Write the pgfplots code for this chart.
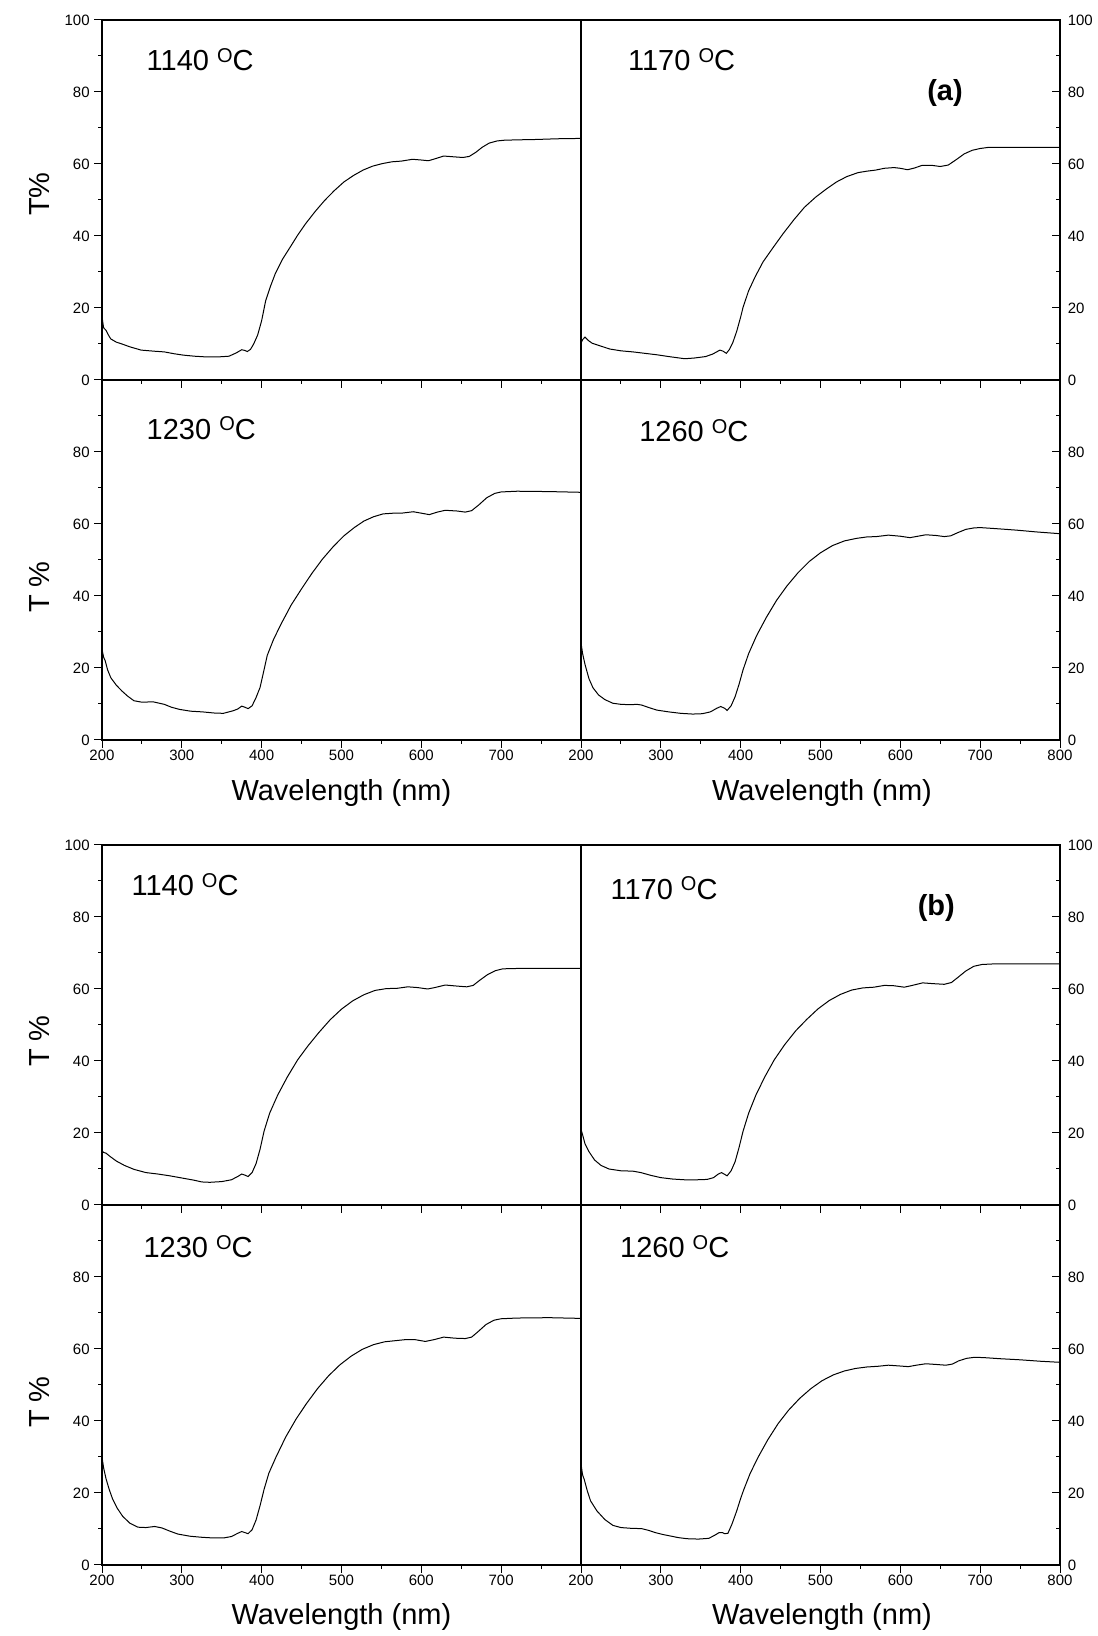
\documentclass[border=0pt]{standalone}
\usepackage{fontspec}
\setmainfont{Liberation Sans}
\usepackage{pgfplots}
\pgfplotsset{compat=1.18}

% temperature label with raised O
\newcommand{\temp}[1]{#1 \raisebox{4.2pt}{\fontsize{10}{10}\selectfont O}C}

\tikzset{tlab/.style={anchor=west, inner sep=1pt, font=\fontsize{14.5}{16}\selectfont}}

\pgfplotsset{
  panel/.style={
    scale only axis, width=239.5pt, height=180pt,
    xmin=200, xmax=800, ymin=0, ymax=100,
    anchor=south west,
    axis line style={line width=0.6pt},
    tick style={black, line width=0.5pt},
    xtick={200,300,...,800}, minor xtick={250,350,...,750},
    ytick={0,20,...,100}, minor ytick={10,30,...,90},
    tick align=outside,
    major tick length=3.8pt, minor tick length=2pt,
    xtick pos=bottom,
    ticklabel style={font=\fontsize{7.5}{9}\selectfont, inner sep=1.2pt},
    /pgf/number format/assume math mode=true,
    every axis plot post/.append style={black, line width=0.5pt, mark=none},
  },
  lpanel/.style={panel, ytick pos=left, yticklabel style={xshift=-1pt}},
  rpanel/.style={panel, ytick pos=right, yticklabel pos=right, ytick align=inside,
    yticklabel style={xshift=2.5pt}},
  toprow/.style={xticklabels={}},
  botrow/.style={ytick={0,20,...,80}},
}

\begin{document}
\begin{tikzpicture}
\useasboundingbox (0pt,0pt) rectangle (548.5pt,818pt);

% ---------------- (a) ----------------
\begin{axis}[lpanel, toprow, at={(51pt,628pt)}]
\addplot coordinates {(200,17.9)(201,16)(202,14.5)(205,13.8)(208,12.5)(211,11.4)(218,10.5)(225,10)(235,9.2)(249,8.3)(265,8)(278,7.8)(290,7.3)(302,6.9)(316,6.6)(331,6.4)(345,6.4)(359,6.6)(368,7.5)(375,8.4)(379,8.2)(382,7.9)(386,8.5)(390,10)(395,12.5)(400,16.5)(405,22)(411,26)(417,29.5)(426,33.5)(436,37)(445,40.2)(455,43.4)(467,46.8)(479,49.9)(491,52.6)(503,55)(515,56.8)(527,58.3)(539,59.4)(551,60.1)(563,60.6)(575,60.8)(589,61.3)(600,61.1)(609,60.9)(618,61.5)(628,62.2)(640,62)(652,61.8)(660,62.1)(668,63.2)(676,64.6)(685,65.8)(695,66.4)(704,66.6)(720,66.7)(743,66.8)(770,67)(800,67.1)};
\node[tlab] at (axis cs:253,89) {\temp{1140}};
\end{axis}

\begin{axis}[rpanel, toprow, at={(290.5pt,628pt)}]
\addplot coordinates {(200,10.3)(202,11.2)(205,11.9)(209,11)(214,10.2)(225,9.4)(236,8.6)(250,8.1)(265,7.8)(280,7.4)(295,7)(310,6.5)(320,6.2)(330,5.9)(342,6.1)(356,6.5)(365,7.2)(374,8.3)(378,8)(382,7.4)(386,8.5)(390,10.3)(395,13.5)(400,17.5)(403,20.2)(410,24.8)(418,28.6)(428,32.8)(441,36.9)(453,40.6)(467,44.6)(480,48)(494,50.8)(507,53)(520,55)(533,56.5)(547,57.6)(558,58)(569,58.3)(580,58.8)(592,59)(600,58.8)(609,58.4)(618,58.9)(627,59.6)(640,59.6)(650,59.3)(660,59.7)(670,61.2)(680,62.8)(690,63.8)(700,64.3)(710,64.6)(740,64.6)(800,64.6)};
\node[tlab] at (axis cs:256,89) {\temp{1170}};
\node[font=\bfseries\fontsize{14.5}{16}\selectfont] at (axis cs:656,79.6) {(a)};
\end{axis}

\begin{axis}[lpanel, botrow, at={(51pt,448pt)}, xtick={200,300,...,700}]
\addplot coordinates {(200,25.2)(202,23)(204,22)(207,19.5)(211,17.3)(218,15.2)(225,13.6)(232,12.2)(240,10.9)(250,10.5)(264,10.6)(278,9.9)(287,9.1)(297,8.5)(311,8)(326,7.8)(340,7.5)(352,7.4)(364,8.1)(370,8.6)(375,9.4)(379,9.1)(383,8.7)(388,9.5)(393,11.8)(398,14.6)(403,19.5)(407,23.5)(415,28)(425,32.5)(437,37.5)(450,42)(463,46.3)(476,50.2)(490,53.8)(503,56.7)(516,59)(528,60.8)(540,62)(552,62.8)(565,63)(575,63)(590,63.4)(600,63)(610,62.6)(620,63.3)(630,63.8)(645,63.6)(655,63.3)(663,63.7)(672,65.3)(682,67.3)(692,68.5)(700,68.9)(720,69.1)(760,69)(800,68.8)};
\node[tlab] at (axis cs:253,86.6) {\temp{1230}};
\end{axis}

\begin{axis}[rpanel, botrow, at={(290.5pt,448pt)}]
\addplot coordinates {(200,27)(202,24)(205,21)(210,17)(215,14.5)(222,12.5)(230,11.2)(240,10.2)(250,9.9)(262,9.8)(270,9.9)(276,9.7)(285,9)(295,8.3)(310,7.8)(325,7.4)(340,7.2)(352,7.3)(362,7.8)(370,8.8)(375,9.3)(380,8.8)(383,8.2)(388,9.5)(393,12)(398,15.5)(403,19.5)(410,24)(420,29)(432,34)(445,38.8)(458,42.8)(472,46.5)(486,49.6)(500,52)(515,54)(530,55.3)(545,56)(558,56.4)(570,56.5)(585,56.9)(600,56.6)(612,56.2)(622,56.6)(632,57)(645,56.8)(655,56.5)(663,56.7)(672,57.6)(682,58.5)(692,58.9)(700,59)(720,58.7)(745,58.3)(770,57.8)(800,57.3)};
\node[tlab] at (axis cs:270,86) {\temp{1260}};
\end{axis}

% ---------------- (b) ----------------
\begin{axis}[lpanel, toprow, at={(51pt,215.5pt)}]
\addplot coordinates {(200,15)(202,14.6)(205,14.4)(210,13.5)(218,12.2)(228,11)(240,9.9)(255,9)(270,8.6)(285,8.1)(300,7.5)(315,6.9)(325,6.4)(335,6.3)(350,6.5)(362,7)(370,7.9)(375,8.6)(379,8.3)(383,7.9)(388,9)(393,11.5)(398,15.5)(403,20.5)(410,25.5)(420,30.5)(432,35.5)(445,40.3)(458,44.2)(472,48)(486,51.5)(500,54.4)(514,56.7)(528,58.4)(542,59.6)(556,60.1)(570,60.2)(583,60.6)(595,60.4)(608,60)(617,60.4)(630,61.1)(645,60.8)(657,60.6)(665,61)(673,62.4)(683,64)(693,65.1)(702,65.6)(720,65.7)(760,65.7)(800,65.7)};
\node[tlab] at (axis cs:234,89) {\temp{1140}};
\end{axis}

\begin{axis}[rpanel, toprow, at={(290.5pt,215.5pt)}]
\addplot coordinates {(200,21)(202,19.5)(205,17)(210,14.8)(217,12.5)(225,11)(235,10)(250,9.5)(265,9.4)(275,9)(288,8.2)(300,7.6)(315,7.2)(330,7)(345,7)(358,7.1)(366,7.6)(372,8.6)(376,9)(380,8.5)(383,8.1)(388,9.5)(393,12)(398,16)(403,20.5)(410,25.5)(419,30.5)(430,35.5)(442,40.3)(455,44.5)(469,48.4)(483,51.6)(497,54.5)(511,56.8)(525,58.5)(539,59.7)(553,60.3)(567,60.5)(580,61)(592,60.9)(605,60.5)(615,61)(628,61.7)(640,61.5)(655,61.3)(664,61.8)(672,63.2)(682,65)(692,66.3)(702,66.8)(720,67)(760,67)(800,67)};
\node[tlab] at (axis cs:234,88) {\temp{1170}};
\node[font=\bfseries\fontsize{14.5}{16}\selectfont] at (axis cs:645,82.5) {(b)};
\end{axis}

\begin{axis}[lpanel, botrow, at={(51pt,35.5pt)}, xtick={200,300,...,700}]
\addplot coordinates {(200,30)(202,27)(205,24)(209,21)(213,18.5)(219,15.8)(226,13.5)(235,11.6)(245,10.5)(255,10.4)(266,10.7)(275,10.3)(285,9.4)(295,8.6)(310,8)(325,7.7)(340,7.5)(352,7.5)(362,7.9)(370,8.8)(375,9.3)(379,9)(383,8.7)(388,9.8)(393,12.5)(398,16.5)(403,21)(409,25.5)(418,30)(430,35.5)(443,40.5)(456,44.8)(470,49)(484,52.6)(498,55.6)(512,58)(526,59.9)(540,61.2)(554,62)(567,62.3)(580,62.6)(592,62.6)(605,62.1)(616,62.6)(628,63.3)(642,63)(655,62.9)(663,63.3)(671,64.8)(681,66.8)(691,68)(700,68.4)(720,68.6)(760,68.7)(800,68.5)};
\node[tlab] at (axis cs:249,88.4) {\temp{1230}};
\end{axis}

\begin{axis}[rpanel, botrow, at={(290.5pt,35.5pt)}]
\addplot coordinates {(200,28)(202,25)(204,23.8)(208,20.5)(212,17.8)(220,15)(230,12.6)(240,11)(250,10.4)(262,10.2)(276,10.1)(285,9.6)(293,9)(302,8.5)(311,8.1)(322,7.6)(333,7.3)(347,7.2)(360,7.4)(367,8.2)(373,9)(377,9)(380,8.7)(384,8.8)(389,11.3)(395,15)(400,18.5)(404,21)(412,25.5)(422,30)(434,34.8)(447,39.3)(460,43)(474,46.3)(488,49)(502,51.2)(516,52.8)(530,53.9)(544,54.6)(558,55)(572,55.2)(585,55.5)(598,55.3)(610,55.1)(620,55.5)(632,55.9)(645,55.7)(657,55.5)(665,55.8)(673,56.7)(683,57.4)(693,57.7)(705,57.6)(725,57.3)(750,57)(775,56.6)(800,56.3)};
\node[tlab] at (axis cs:246,88.4) {\temp{1260}};
\end{axis}

% axis titles
\begin{scope}[every node/.style={font=\fontsize{14.5}{16}\selectfont}]
\node[rotate=90] at (20pt,721pt) {T\%};
\node[rotate=90] at (20pt,524.5pt) {T \%};
\node[rotate=90] at (20pt,297.5pt) {T \%};
\node[rotate=90] at (20pt,117pt) {T \%};
\node at (170.7pt,421.5pt) {Wavelength (nm)};
\node at (411pt,421.5pt) {Wavelength (nm)};
\node at (170.7pt,9.5pt) {Wavelength (nm)};
\node at (411pt,9.5pt) {Wavelength (nm)};
\end{scope}
\end{tikzpicture}
\end{document}
